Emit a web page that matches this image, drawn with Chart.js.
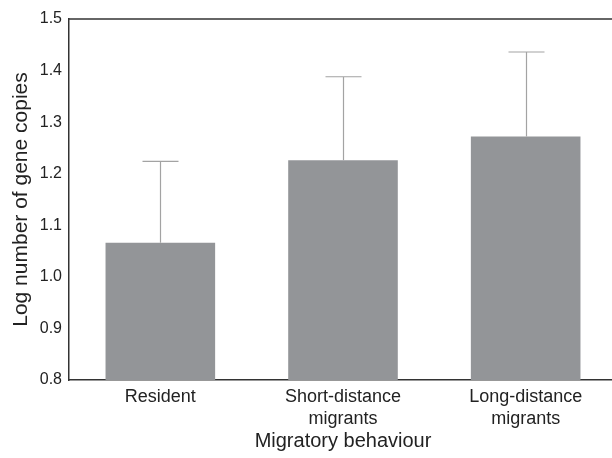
<!DOCTYPE html>
<html lang="en-US">
<head>
  <meta charset="utf-8">
  <title>Migratory behaviour | Chart.js</title>
  <script src="https://cdn.jsdelivr.net/npm/chart.js@4/dist/chart.umd.min.js"></script>
  <style>
    html, body { margin: 0; padding: 0; background: #fff; overflow: hidden; }
    .wrapper { width: 612px; height: 458px; overflow: hidden; }
  </style>
</head>
<body>
  <div class="wrapper">
    <canvas id="chart-0" width="617" height="458"></canvas>
  </div>

  <script>
    let categories = [['Resident'], ['Short-distance', 'migrants'], ['Long-distance', 'migrants']];
    let means = [1.066, 1.226, 1.272];
    let upperErr = [1.224, 1.388, 1.436];
    let yTicks = [0.8, 0.9, 1.0, 1.1, 1.2, 1.3, 1.4, 1.5];

    let font = "'Liberation Sans', Arial, Helvetica, sans-serif";

    // upward-only error bars with caps
    let errorBars = {
      id: 'errorBars',
      afterDatasetsDraw(chart) {
        let ctx = chart.ctx;
        let meta = chart.getDatasetMeta(0);
        let y = chart.scales.y;
        ctx.save();
        ctx.strokeStyle = '#a3a3a3';
        ctx.lineWidth = 1.2;
        meta.data.forEach(function(bar, i) {
          let x = Math.round(bar.x) + 0.5;
          let yTop = y.getPixelForValue(upperErr[i]);
          ctx.beginPath();
          ctx.moveTo(x, bar.y);
          ctx.lineTo(x, yTop);
          ctx.moveTo(x - 18, yTop);
          ctx.lineTo(x + 18, yTop);
          ctx.stroke();
        });
        ctx.restore();
      }
    };

    // top frame line
    let topLine = {
      id: 'topLine',
      afterDraw(chart) {
        let a = chart.chartArea;
        let ctx = chart.ctx;
        ctx.save();
        ctx.strokeStyle = '#333';
        ctx.lineWidth = 1.5;
        ctx.beginPath();
        ctx.moveTo(a.left, a.top);
        ctx.lineTo(a.right, a.top);
        ctx.stroke();
        ctx.restore();
      }
    };

    let chart = new Chart('chart-0', {
      type: 'bar',
      data: {
        labels: categories,
        datasets: [{
          data: means,
          backgroundColor: '#939598',
          borderWidth: 0,
          categoryPercentage: 1.0,
          barPercentage: 0.6
        }]
      },
      plugins: [errorBars, topLine],
      options: {
        responsive: false,
        animation: false,
        layout: { padding: { top: 19, right: 0, left: 0, bottom: 0 } },
        plugins: {
          legend: { display: false },
          tooltip: { enabled: false }
        },
        scales: {
          x: {
            grid: { display: false, drawTicks: false },
            border: { color: '#333', width: 1.5 },
            ticks: {
              color: '#222',
              padding: 7,
              maxRotation: 0,
              font: { family: font, size: 18, lineHeight: 1.17 }
            },
            title: {
              display: true,
              text: 'Migratory behaviour',
              color: '#222',
              padding: { top: 0, bottom: 5 },
              font: { family: font, size: 20 }
            },
            afterFit(scale) { scale.height = 78; }
          },
          y: {
            min: 0.8,
            max: 1.5,
            afterBuildTicks(scale) {
              scale.ticks = yTicks.map(v => ({ value: v }));
            },
            grid: { display: false, drawTicks: false },
            border: { color: '#333', width: 1.5 },
            ticks: {
              color: '#222',
              padding: 7,
              font: { family: font, size: 16 },
              callback: v => v.toFixed(1)
            },
            title: {
              display: true,
              text: 'Log number of gene copies',
              color: '#222',
              padding: { top: 9, bottom: 0 },
              font: { family: font, size: 21 }
            },
            afterFit(scale) { scale.width = 69; }
          }
        }
      }
    });
  </script>
</body>
</html>
